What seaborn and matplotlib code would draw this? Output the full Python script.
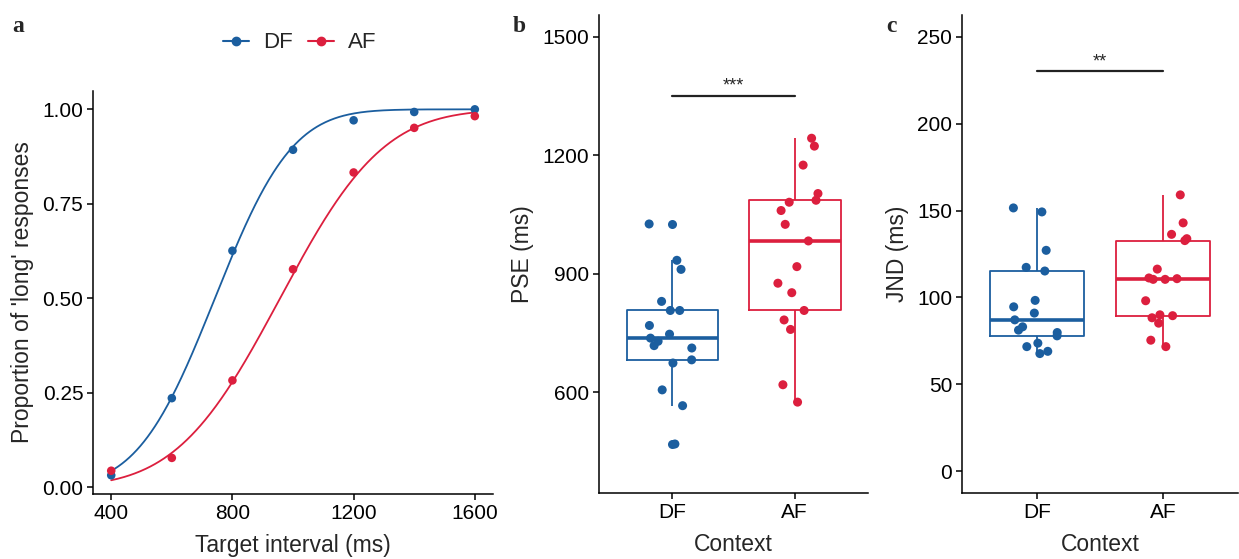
import math

import matplotlib.pyplot as plt
import numpy as np
import pandas as pd
import seaborn as sns
from matplotlib.lines import Line2D

# colours
blue = "#1B5E9F"
red = "#DC1F3E"
palette = {"DF": blue, "AF": red}
order = ["DF", "AF"]

# panel a: psychometric data
intervals = [400, 600, 800, 1000, 1200, 1400, 1600]
prop_df = [0.032, 0.236, 0.626, 0.893, 0.971, 0.993, 1.0]
prop_af = [0.044, 0.078, 0.283, 0.577, 0.833, 0.951, 0.982]
# fitted cumulative normal (mean, sd) per context
fit_df = (742, 200)
fit_af = (957, 268)

# panel b: PSE per participant
pse_df = [469, 566, 606, 674, 682, 712, 718, 729, 737, 747, 769, 807, 807,
          830, 911, 934, 1026]
pse_af = [575, 619, 759, 783, 807, 852, 876, 918, 983, 1025, 1060, 1081,
          1086, 1103, 1175, 1223, 1243]

# panel c: JND per participant
jnd_df = [67.7, 69.0, 71.7, 73.7, 77.9, 79.8, 81.2, 83.1, 87.1, 91.0, 94.6,
          98.3, 115.2, 117.3, 127.1, 149.2, 151.5]
jnd_af = [71.7, 75.4, 85.2, 88.3, 89.5, 90.0, 98.1, 110.4, 110.8, 110.4,
          111.2, 116.3, 132.7, 133.8, 136.3, 142.9, 159.0]

sig_pse = (1350, "***")
sig_jnd = (230, "**")

sns.set_theme(style="ticks")
plt.rcParams["font.family"] = ["Liberation Sans", "DejaVu Sans"]
plt.rcParams["axes.edgecolor"] = "black"
plt.rcParams["axes.linewidth"] = 1.1
for k in ["xtick", "ytick"]:
    plt.rcParams[k + ".color"] = "black"
    plt.rcParams[k + ".major.width"] = 1.1
    plt.rcParams[k + ".major.size"] = 4
    plt.rcParams[k + ".labelsize"] = 15
    plt.rcParams[k + ".major.pad"] = 3

fig = plt.figure(figsize=(12.39, 5.59), dpi=100)
ax_a = fig.add_axes([0.0751, 0.1163, 0.3228, 0.7209])
ax_b = fig.add_axes([0.4835, 0.1181, 0.2171, 0.8551])
ax_c = fig.add_axes([0.7764, 0.1181, 0.2230, 0.8551])

# ---- panel a
pts = pd.DataFrame({
    "interval": intervals * 2,
    "prop": prop_df + prop_af,
    "context": ["DF"] * len(intervals) + ["AF"] * len(intervals),
})


def cum_normal(x, mu, sd):
    return [0.5 * (1 + math.erf((v - mu) / (sd * math.sqrt(2)))) for v in x]


xs = np.linspace(min(intervals), max(intervals), 400)
curves = pd.DataFrame({
    "interval": np.concatenate([xs, xs]),
    "prop": cum_normal(xs, *fit_df) + cum_normal(xs, *fit_af),
    "context": ["DF"] * len(xs) + ["AF"] * len(xs),
})

sns.lineplot(data=curves, x="interval", y="prop", hue="context",
             hue_order=order, palette=palette, linewidth=1.3,
             legend=False, ax=ax_a)
sns.scatterplot(data=pts, x="interval", y="prop", hue="context",
                hue_order=order, palette=palette, s=38, linewidth=0,
                legend=False, ax=ax_a, zorder=3)
ax_a.set_xlim(340, 1660)
ax_a.set_ylim(-0.0175, 1.0485)
ax_a.set_xticks([400, 800, 1200, 1600])
ax_a.set_yticks([0, 0.25, 0.5, 0.75, 1.0])
ax_a.set_yticklabels(["0.00", "0.25", "0.50", "0.75", "1.00"])
ax_a.set_xlabel("Target interval (ms)", fontsize=16.5, labelpad=8)
ax_a.set_ylabel("Proportion of 'long' responses", fontsize=16.5, labelpad=6)

handles = [Line2D([0], [0], color=palette[c], marker="o", markersize=6,
                  linewidth=1.5) for c in order]
fig.legend(handles, order, loc="center", bbox_to_anchor=(300 / 1239, 1 - 43 / 559),
           ncol=2, frameon=False, fontsize=16, handlelength=1.15,
           handletextpad=0.65, columnspacing=0.7)


# ---- panels b and c
def box_panel(ax, v_df, v_af, ylabel, ylim, yticks, sig):
    d = pd.DataFrame({
        "context": ["DF"] * len(v_df) + ["AF"] * len(v_af),
        "value": v_df + v_af,
    })
    sns.boxplot(data=d, x="context", y="value", hue="context", order=order,
                hue_order=order, palette=palette, fill=False, width=0.75,
                linewidth=1.3, showcaps=False, whis=1.5,
                flierprops={"marker": "o", "markersize": 6.5},
                medianprops={"linewidth": 2.6}, legend=False, ax=ax)
    for ln in ax.lines:
        if ln.get_marker() == "o":
            ln.set_markerfacecolor(ln.get_markeredgecolor())
            ln.set_markeredgewidth(0)
    np.random.seed(3)
    sns.stripplot(data=d, x="context", y="value", hue="context", order=order,
                  hue_order=order, palette=palette, jitter=0.2, size=6.5,
                  linewidth=0, legend=False, ax=ax, zorder=4)
    ax.set_xlim(-0.6, 1.6)
    ax.set_ylim(*ylim)
    ax.set_yticks(yticks)
    ax.set_xlabel("Context", fontsize=16.5, labelpad=8)
    ax.set_ylabel(ylabel, fontsize=16.5, labelpad=6)
    y, stars = sig
    ax.plot([0, 1], [y, y], color="#222222", linewidth=1.6)
    ax.annotate(stars, (0.5, y), xytext=(0, 1), textcoords="offset points",
                ha="center", va="bottom", fontsize=13)


box_panel(ax_b, pse_df, pse_af, "PSE (ms)", (345, 1555),
          [600, 900, 1200, 1500], sig_pse)
box_panel(ax_c, jnd_df, jnd_af, "JND (ms)", (-12.5, 262.5),
          [0, 50, 100, 150, 200, 250], sig_jnd)

for ax in [ax_a, ax_b, ax_c]:
    sns.despine(ax=ax)

for x, lab in [(12, "a"), (513, "b"), (886, "c")]:
    fig.text(x / 1239, 1 - 26 / 559, lab, fontsize=17, fontweight="bold",
             family="Liberation Serif", va="center", ha="left")

fig.savefig("out.png", dpi=100)
